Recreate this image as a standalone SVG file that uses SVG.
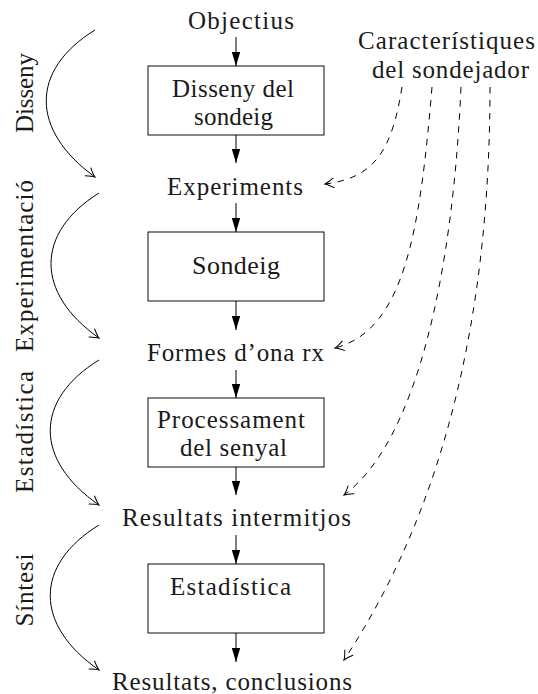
<svg xmlns="http://www.w3.org/2000/svg" width="538" height="694" viewBox="0 0 538 694">
<style>
text{font-family:"Liberation Serif","Times New Roman",serif;font-size:25px;fill:#1a1a1a}
.box{fill:#fff;stroke:#222;stroke-width:1.1}
.flow{stroke:#000;stroke-width:1;fill:none}
.arc{stroke:#000;stroke-width:1;fill:none}
.dash{stroke:#000;stroke-width:1;fill:none;stroke-dasharray:6.5 6.5}
</style>
<defs>
<marker id="tri" markerUnits="userSpaceOnUse" markerWidth="16" markerHeight="12" viewBox="-15 -6 16 12" refX="0" refY="0" orient="auto">
<path d="M-14,-4.2 L0,0 L-14,4.2 Z" fill="#000"/>
</marker>
<marker id="to" markerUnits="userSpaceOnUse" markerWidth="14" markerHeight="14" viewBox="-12 -7 14 14" refX="0" refY="0" orient="auto">
<path d="M-9,-5 Q-3,-1 0,0 Q-3,1 -9,5" fill="none" stroke="#000" stroke-width="1" stroke-dasharray="none"/>
</marker>
</defs>

<g id="labels-side">
<text transform="translate(33,93) rotate(-90)" text-anchor="middle" textLength="80">Disseny</text>
<text transform="translate(33,266) rotate(-90)" text-anchor="middle" textLength="172">Experimentació</text>
<text transform="translate(33,432) rotate(-90)" text-anchor="middle" textLength="122">Estadística</text>
<text transform="translate(33,590) rotate(-90)" text-anchor="middle" textLength="73">Síntesi</text>
</g>

<g id="objectius"><text x="188" y="29" textLength="106">Objectius</text></g>
<g id="caracteristiques">
<text x="358" y="49" textLength="177">Característiques</text>
<text x="372" y="78" textLength="157">del sondejador</text>
</g>
<g id="disseny">
<rect class="box" x="148" y="66" width="176" height="69"/>
<text x="172" y="97" textLength="122">Disseny del</text>
<text x="194" y="125" textLength="79">sondeig</text>
</g>
<g id="experiments"><text x="167" y="195" textLength="136">Experiments</text></g>
<g id="sondeig">
<rect class="box" x="148" y="232" width="176" height="69"/>
<text x="192" y="274" textLength="88" style="font-size:26px">Sondeig</text>
</g>
<g id="formes"><text x="147" y="361" textLength="177">Formes d’ona rx</text></g>
<g id="processament">
<rect class="box" x="148" y="398" width="176" height="69"/>
<text x="157" y="428" textLength="148">Processament</text>
<text x="180" y="456" textLength="107">del senyal</text>
</g>
<g id="intermitjos"><text x="122" y="526" textLength="229">Resultats intermitjos</text></g>
<g id="estadistica">
<rect class="box" x="148" y="564" width="176" height="69"/>
<text x="170" y="595" textLength="121">Estadística</text>
</g>
<g id="conclusions"><text x="112" y="690" textLength="240">Resultats, conclusions</text></g>

<g id="connectors">
<path class="flow" marker-end="url(#tri)" d="M236,37 V66"/>
<path class="flow" marker-end="url(#tri)" d="M236,135 V163"/>
<path class="flow" marker-end="url(#tri)" d="M236,203 V232"/>
<path class="flow" marker-end="url(#tri)" d="M236,301 V330"/>
<path class="flow" marker-end="url(#tri)" d="M236,370 V398"/>
<path class="flow" marker-end="url(#tri)" d="M236,467 V495"/>
<path class="flow" marker-end="url(#tri)" d="M236,535 V564"/>
<path class="flow" marker-end="url(#tri)" d="M236,633 V662"/>

<path class="arc" marker-end="url(#to)" d="M95,30 C30,70 30,130 95,177"/>
<path class="arc" marker-end="url(#to)" d="M99,193 C35,233 35,293 99,338"/>
<path class="arc" marker-end="url(#to)" d="M99,360 C34,400 34,460 99,505"/>
<path class="arc" marker-end="url(#to)" d="M99,525 C34,565 34,625 99,670"/>

<path class="dash" marker-end="url(#to)" d="M402,87 C392,150 375,178 325,184"/>
<path class="dash" marker-end="url(#to)" d="M432,87 C420,230 405,330 335,348"/>
<path class="dash" marker-end="url(#to)" d="M461,87 C453,270 418,440 344,495"/>
<path class="dash" marker-end="url(#to)" d="M490,87 C490,300 450,500 344,660"/>
</g>
</svg>
